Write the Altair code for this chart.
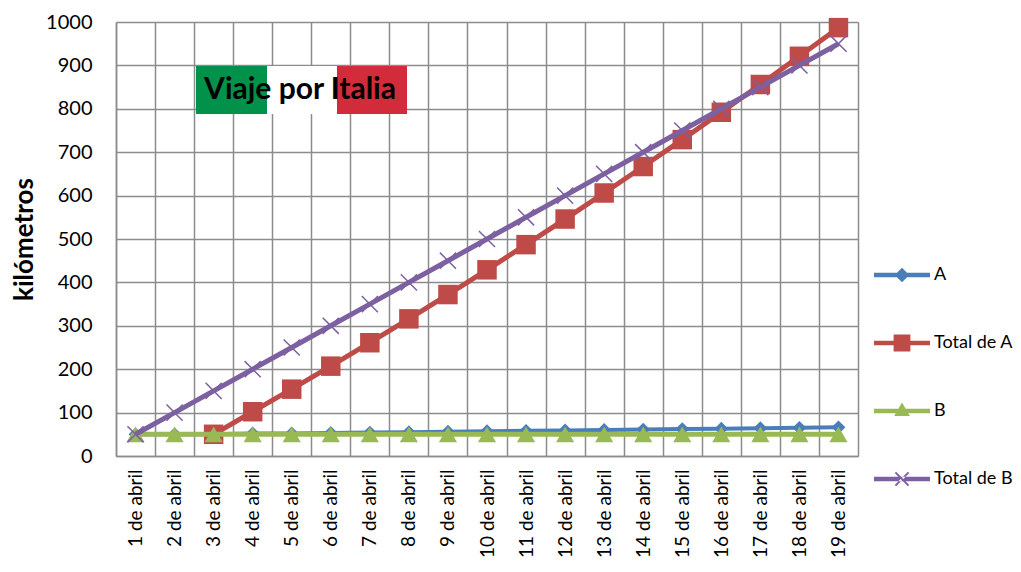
import altair as alt
import pandas as pd

days = [f"{i} de abril" for i in range(1, 20)]
series_names = ["A", "Total de A", "B", "Total de B"]
colors = ["#4a7ebb", "#be4b48", "#98b954", "#7d60a0"]

a_vals = [50, 50, 50, 52, 52, 53, 54, 55, 56, 57, 58, 59, 60, 61, 62, 63, 64, 65, 66]
total_a_vals = [None, None, 50, 102, 154, 207, 261, 316, 372, 429, 487, 546, 606, 667, 729, 792, 856, 921, 987]
b_vals = [50] * 19
total_b_vals = [50, 100, 150, 200, 250, 300, 350, 400, 450, 500, 550, 600, 650, 700, 750, 800, 850, 900, 950]

rows = []
for name, vals in zip(series_names, [a_vals, total_a_vals, b_vals, total_b_vals]):
    for d, v in zip(days, vals):
        if v is not None:
            rows.append({"dia": d, "km": v, "serie": name})
df = pd.DataFrame(rows)

FONT = "Lato"

color_scale = alt.Scale(domain=series_names, range=colors)

x_enc = alt.X(
    "dia:N", sort=days, bandPosition=0.5,
    scale=alt.Scale(type="band", paddingInner=0, paddingOuter=0),
    axis=alt.Axis(title=None, labelAngle=-90, tickBand="extent", grid=True, ticks=False,
                  labelPadding=13, labelFontSize=19, labelFont=FONT, labelColor="#000000",
                  domainColor="#8c8c8c", domainWidth=1.5, gridColor="#8c8c8c", gridWidth=1.5),
)
y_enc = alt.Y(
    "km:Q", scale=alt.Scale(domain=[0, 1000], nice=False),
    axis=alt.Axis(title="kilómetros", values=list(range(0, 1001, 100)), format="d",
                  grid=True, ticks=False,
                  labelPadding=24, labelFontSize=20, labelFont=FONT, labelColor="#000000",
                  titleFont=FONT, titleFontSize=26, titleFontWeight="bold", titleColor="#000000",
                  titlePadding=8,
                  domainColor="#8c8c8c", domainWidth=1.5, gridColor="#8c8c8c", gridWidth=1.5),
)

base = alt.Chart(df)

legend_paths = [
    "M-1,-0.08L1,-0.08L1,0.08L-1,0.08Z M0,-0.26L0.26,0L0,0.26L-0.26,0Z",
    "M-1,-0.08L1,-0.08L1,0.08L-1,0.08Z M-0.3,-0.3L0.3,-0.3L0.3,0.3L-0.3,0.3Z",
    "M-1,-0.08L1,-0.08L1,0.08L-1,0.08Z M0,-0.3L0.28,0.18L-0.28,0.18Z",
    "M-1,-0.08L1,-0.08L1,0.08L-1,0.08Z M-0.26,-0.21L-0.21,-0.26L0.26,0.21L0.21,0.26Z M-0.26,0.21L-0.21,0.26L0.26,-0.21L0.21,-0.26Z",
]
legend_obj = alt.Legend(title=None, orient="none", legendX=758, legendY=225,
                        symbolSize=3136, symbolStrokeWidth=0, rowPadding=31,
                        labelFont=FONT, labelFontSize=18, labelColor="#000000",
                        labelOffset=4, symbolOpacity=1)

legend_layer = base.transform_filter("false").mark_point(filled=True, opacity=1).encode(
    x=x_enc, y=y_enc,
    color=alt.Color("serie:N", scale=color_scale, legend=legend_obj),
    shape=alt.Shape("serie:N", scale=alt.Scale(domain=series_names, range=legend_paths),
                    legend=legend_obj),
)

marker_cfg = {
    "A": dict(shape="diamond", size=190, filled=True),
    "Total de A": dict(shape="square", size=380, filled=True),
    "B": dict(shape="triangle-up", size=330, filled=True),
    "Total de B": dict(shape="M-1,-1L1,1M-1,1L1,-1", size=260, filled=False, strokeWidth=1.5),
}
line_w = {"A": 4, "Total de A": 5, "B": 5, "Total de B": 5}

layers = [legend_layer]
for name in series_names:
    sub = base.transform_filter(alt.datum.serie == name)
    layers.append(
        sub.mark_line(strokeWidth=line_w[name]).encode(
            x=x_enc, y=y_enc,
            color=alt.Color("serie:N", scale=color_scale, legend=None),
        )
    )
    layers.append(
        sub.mark_point(opacity=1, **marker_cfg[name]).encode(
            x=x_enc, y=y_enc,
            color=alt.Color("serie:N", scale=color_scale, legend=None),
        )
    )

one = alt.Data(values=[{}])
flag_green = alt.Chart(one).mark_rect(color="#00924a").encode(
    x=alt.value(80), x2=alt.value(151), y=alt.value(44), y2=alt.value(92))
flag_white = alt.Chart(one).mark_rect(color="#ffffff").encode(
    x=alt.value(151), x2=alt.value(221), y=alt.value(44), y2=alt.value(92))
flag_red = alt.Chart(one).mark_rect(color="#d22b39").encode(
    x=alt.value(221), x2=alt.value(291), y=alt.value(44), y2=alt.value(92))
flag_text = alt.Chart(one).mark_text(
    text="Viaje por Italia", font=FONT, fontSize=30, fontWeight="bold", color="#000000",
    align="center", baseline="middle").encode(x=alt.value(184), y=alt.value(68))

chart = alt.layer(
    *layers, flag_green, flag_white, flag_red, flag_text
).properties(
    width=742, height=434,
    autosize=alt.AutoSizeParams(type="none"),
    padding={"left": 108, "top": 14, "right": 155, "bottom": 102},
).configure_view(stroke="#d9d9d9", strokeWidth=1.5).configure(background="#ffffff")

chart.save("out.html", embed_options={"renderer": "svg", "actions": False})
